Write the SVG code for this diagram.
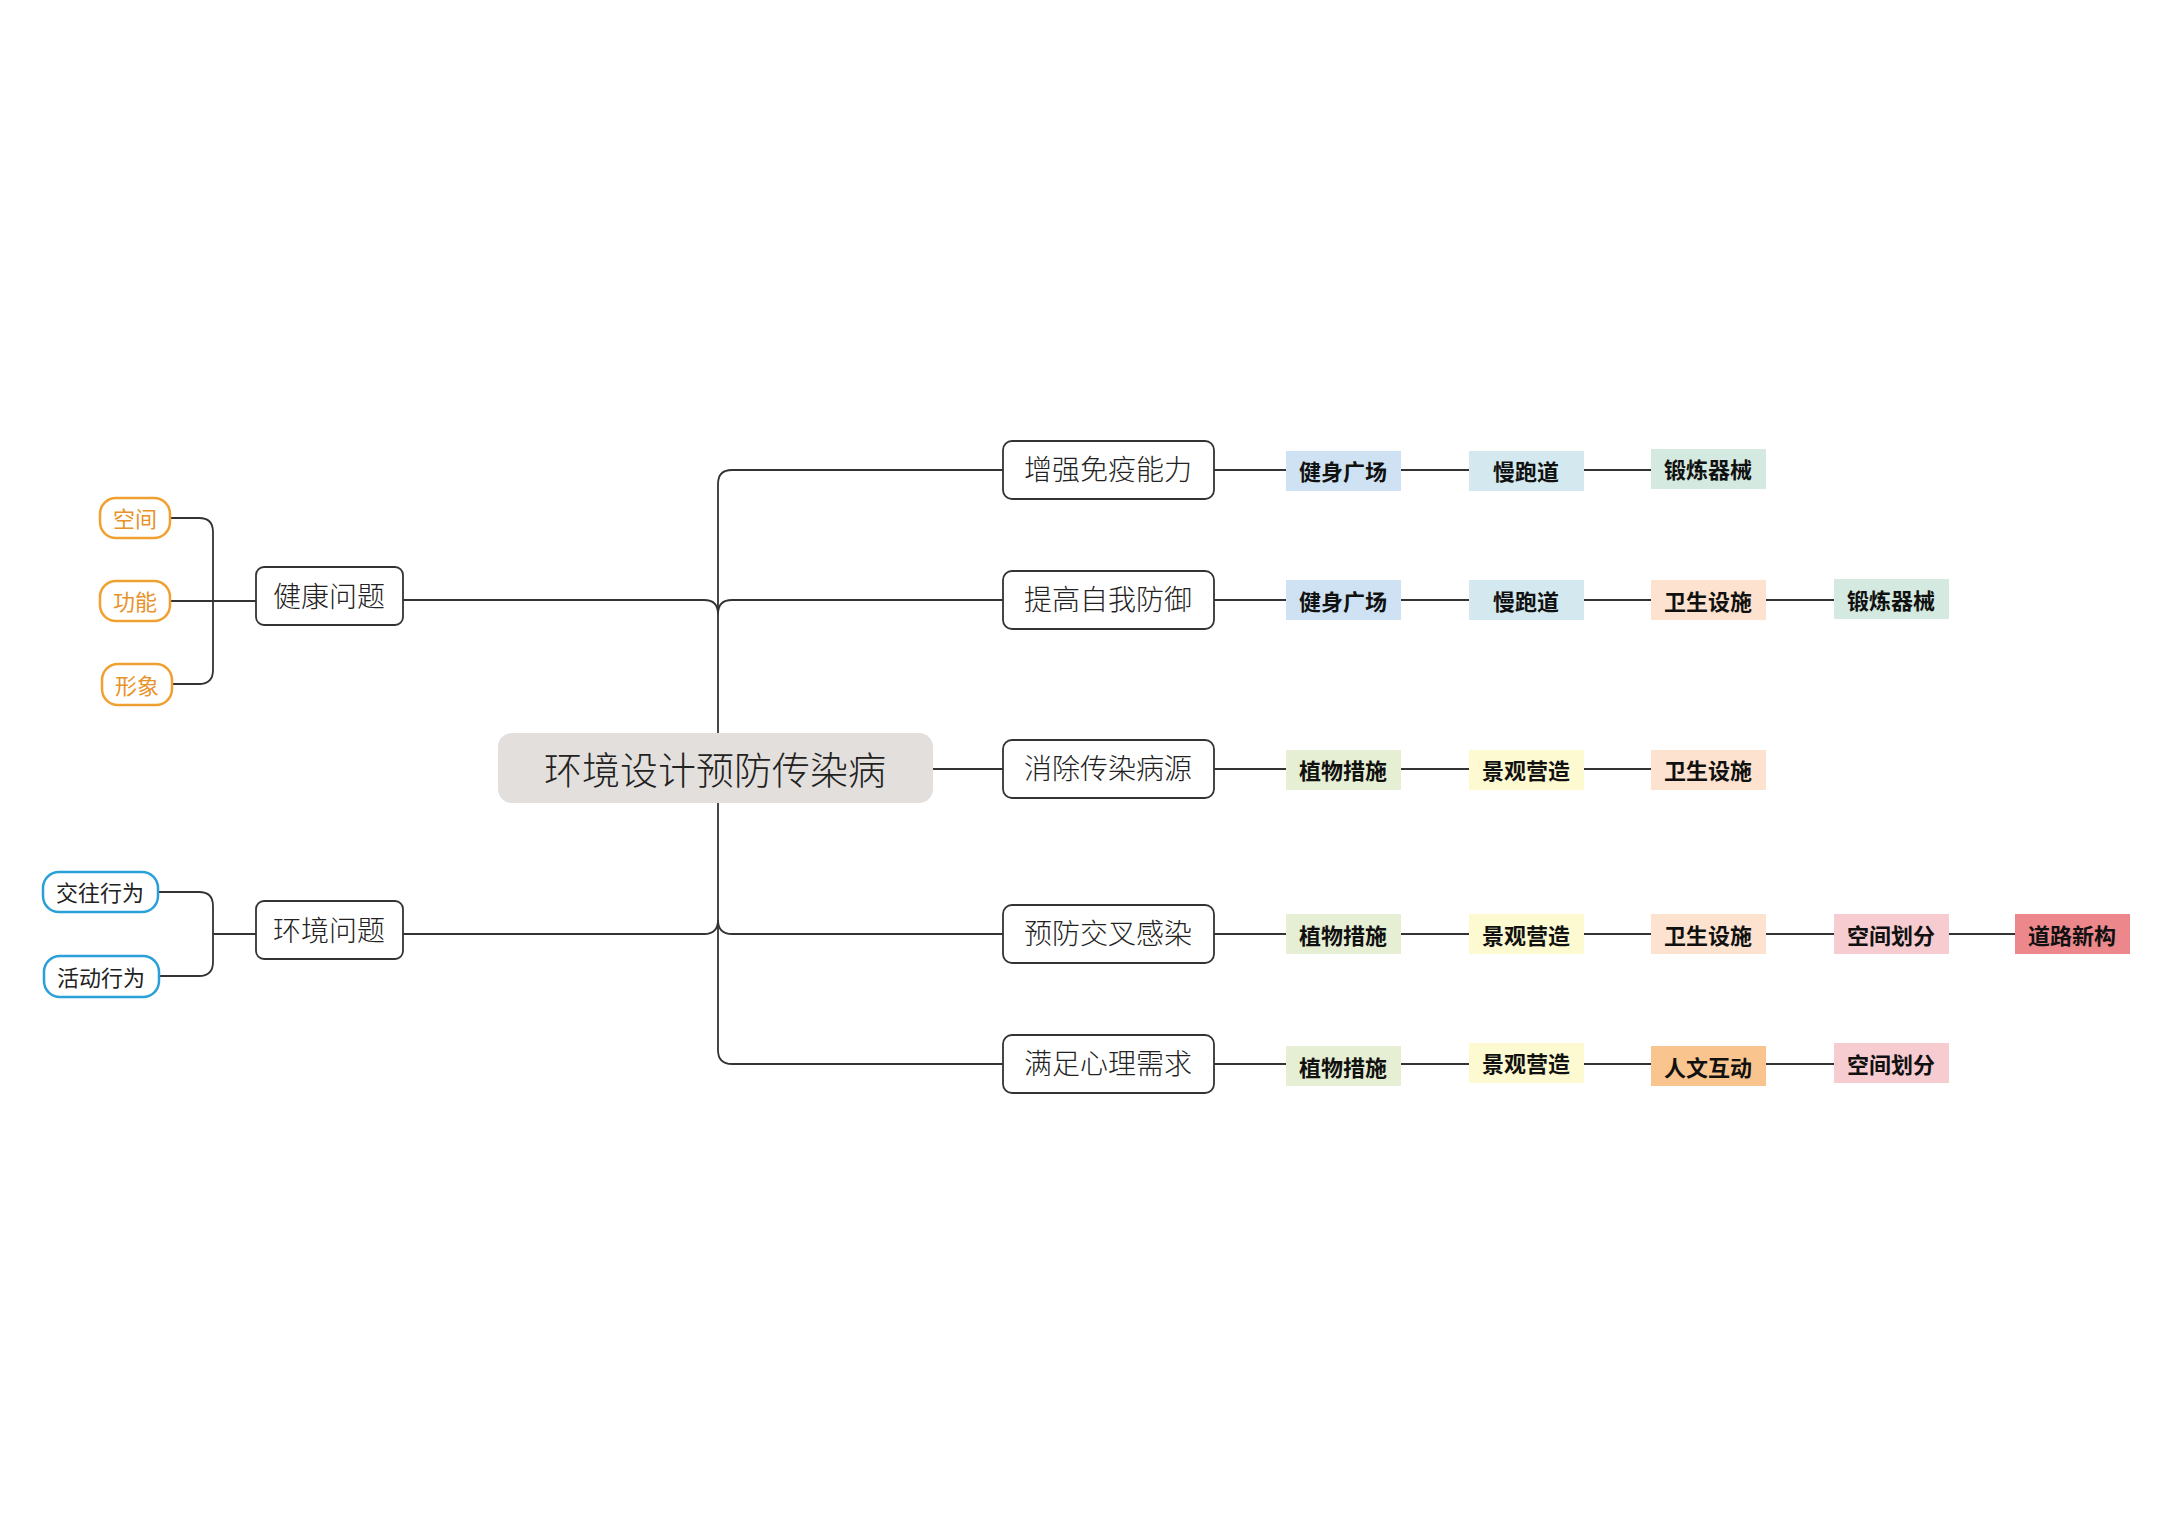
<svg xmlns="http://www.w3.org/2000/svg" width="2173" height="1536" viewBox="0 0 2173 1536">
<style>
.c{fill:none;stroke:#333;stroke-width:1.8}
.n1{fill:#fff;stroke:#333;stroke-width:1.8}
.t1{font-family:"Noto Sans CJK SC",sans-serif;font-weight:300;font-size:28px;fill:#222;text-anchor:middle;dominant-baseline:central}
.tl{font-family:"Noto Sans CJK SC",sans-serif;font-weight:700;font-size:22px;fill:#111;text-anchor:middle;dominant-baseline:central}
.ts{font-family:"Noto Sans CJK SC",sans-serif;font-size:22px;text-anchor:middle;dominant-baseline:central}
</style>
<rect width="2173" height="1536" fill="#fff"/>
<g id="connectors">
<path class="c" d="M1003 470 H732 Q718 470 718 484 V1050 Q718 1064 732 1064 H1003"/>
<path class="c" d="M1003 600 H732 Q718 600 718 614"/>
<path class="c" d="M1003 934 H732 Q718 934 718 920"/>
<path class="c" d="M403 600 H704 Q718 600 718 614"/>
<path class="c" d="M403 934 H704 Q718 934 718 920"/>
<path class="c" d="M933 769 H1003"/>
<path class="c" d="M1214 470 H1286 M1401 470 H1469 M1584 470 H1651"/>
<path class="c" d="M1214 600 H1286 M1401 600 H1469 M1584 600 H1651 M1766 600 H1834"/>
<path class="c" d="M1214 769 H1286 M1401 769 H1469 M1584 769 H1651"/>
<path class="c" d="M1214 934 H1286 M1401 934 H1469 M1584 934 H1651 M1766 934 H1834 M1949 934 H2015"/>
<path class="c" d="M1214 1064 H1286 M1401 1064 H1469 M1584 1064 H1651 M1766 1064 H1834"/>
<path class="c" d="M170 518 H199 Q213 518 213 532 V670 Q213 684 199 684 H170 M170 601 H256"/>
<path class="c" d="M158 892 H199 Q213 892 213 906 V962 Q213 976 199 976 H158 M213 934 H256"/>
</g>
<g id="center"><rect x="498" y="733" width="435" height="70" rx="14" fill="#e2dfdc"/><text class="t1" x="715" y="767" style="font-size:38px">环境设计预防传染病</text></g>
<g id="n-jk"><rect class="n1" x="256" y="567" width="147" height="58" rx="8"/><text class="t1" x="329" y="595">健康问题</text></g>
<g id="n-hj"><rect class="n1" x="256" y="901" width="147" height="58" rx="8"/><text class="t1" x="329" y="929">环境问题</text></g>
<g id="o1"><rect x="100" y="498" width="70" height="40" rx="16" fill="#fff" stroke="#f0a030" stroke-width="2.5"/><text class="ts" x="135" y="517" fill="#e8922a">空间</text></g>
<g id="o2"><rect x="100" y="581" width="70" height="40" rx="16" fill="#fff" stroke="#f0a030" stroke-width="2.5"/><text class="ts" x="135" y="600" fill="#e8922a">功能</text></g>
<g id="o3"><rect x="102" y="664" width="70" height="41" rx="16" fill="#fff" stroke="#f0a030" stroke-width="2.5"/><text class="ts" x="137" y="684" fill="#e8922a">形象</text></g>
<g id="b1"><rect x="43" y="872" width="115" height="40" rx="16" fill="#fff" stroke="#2aa0d8" stroke-width="2.5"/><text class="ts" x="100" y="891" fill="#222">交往行为</text></g>
<g id="b2"><rect x="44" y="956" width="115" height="41" rx="16" fill="#fff" stroke="#2aa0d8" stroke-width="2.5"/><text class="ts" x="101" y="976" fill="#222">活动行为</text></g>
<g id="r1"><rect class="n1" x="1003" y="441" width="211" height="58" rx="9"/><text class="t1" x="1108" y="468">增强免疫能力</text></g>
<g id="r2"><rect class="n1" x="1003" y="571" width="211" height="58" rx="9"/><text class="t1" x="1108" y="598">提高自我防御</text></g>
<g id="r3"><rect class="n1" x="1003" y="740" width="211" height="58" rx="9"/><text class="t1" x="1108" y="767">消除传染病源</text></g>
<g id="r4"><rect class="n1" x="1003" y="905" width="211" height="58" rx="9"/><text class="t1" x="1108" y="932">预防交叉感染</text></g>
<g id="r5"><rect class="n1" x="1003" y="1035" width="211" height="58" rx="9"/><text class="t1" x="1108" y="1062">满足心理需求</text></g>
<g id="l11"><rect x="1286" y="451" width="115" height="40" fill="#cfe2f3"/><text class="tl" x="1343" y="470">健身广场</text></g>
<g id="l12"><rect x="1469" y="451" width="115" height="40" fill="#d3e9ef"/><text class="tl" x="1526" y="470">慢跑道</text></g>
<g id="l13"><rect x="1651" y="449" width="115" height="40" fill="#d4e9df"/><text class="tl" x="1708" y="468">锻炼器械</text></g>
<g id="l21"><rect x="1286" y="580" width="115" height="40" fill="#cfe2f3"/><text class="tl" x="1343" y="600">健身广场</text></g>
<g id="l22"><rect x="1469" y="580" width="115" height="40" fill="#d3e9ef"/><text class="tl" x="1526" y="600">慢跑道</text></g>
<g id="l23"><rect x="1651" y="580" width="115" height="40" fill="#fde3cf"/><text class="tl" x="1708" y="600">卫生设施</text></g>
<g id="l24"><rect x="1834" y="579" width="115" height="40" fill="#d4e9df"/><text class="tl" x="1891" y="599">锻炼器械</text></g>
<g id="l31"><rect x="1286" y="750" width="115" height="40" fill="#e6efd3"/><text class="tl" x="1343" y="769">植物措施</text></g>
<g id="l32"><rect x="1469" y="750" width="115" height="40" fill="#fdf9d0"/><text class="tl" x="1526" y="769">景观营造</text></g>
<g id="l33"><rect x="1651" y="750" width="115" height="40" fill="#fde3cf"/><text class="tl" x="1708" y="769">卫生设施</text></g>
<g id="l41"><rect x="1286" y="914" width="115" height="40" fill="#e6efd3"/><text class="tl" x="1343" y="934">植物措施</text></g>
<g id="l42"><rect x="1469" y="914" width="115" height="40" fill="#fdf9d0"/><text class="tl" x="1526" y="934">景观营造</text></g>
<g id="l43"><rect x="1651" y="914" width="115" height="40" fill="#fde3cf"/><text class="tl" x="1708" y="934">卫生设施</text></g>
<g id="l44"><rect x="1834" y="914" width="115" height="40" fill="#f7ccd0"/><text class="tl" x="1891" y="934">空间划分</text></g>
<g id="l45"><rect x="2015" y="914" width="115" height="40" fill="#ec878b"/><text class="tl" x="2072" y="934">道路新构</text></g>
<g id="l51"><rect x="1286" y="1046" width="115" height="40" fill="#e6efd3"/><text class="tl" x="1343" y="1066">植物措施</text></g>
<g id="l52"><rect x="1469" y="1043" width="115" height="40" fill="#fdf9d0"/><text class="tl" x="1526" y="1062">景观营造</text></g>
<g id="l53"><rect x="1651" y="1046" width="115" height="40" fill="#f9c48e"/><text class="tl" x="1708" y="1066">人文互动</text></g>
<g id="l54"><rect x="1834" y="1043" width="115" height="40" fill="#f7ccd0"/><text class="tl" x="1891" y="1063">空间划分</text></g>
</svg>
